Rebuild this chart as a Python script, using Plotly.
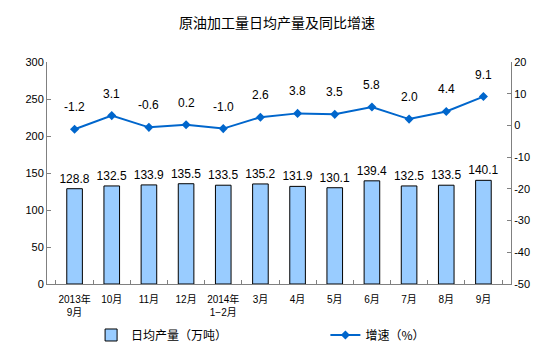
import plotly.graph_objects as go

categories = ["2013年<br>9月", "10月", "11月", "12月", "2014年<br>1−2月", "3月", "4月",
              "5月", "6月", "7月", "8月", "9月"]
output_values = [128.8, 132.5, 133.9, 135.5, 133.5, 135.2, 131.9, 130.1, 139.4, 132.5, 133.5, 140.1]
growth_values = [-1.2, 3.1, -0.6, 0.2, -1.0, 2.6, 3.8, 3.5, 5.8, 2.0, 4.4, 9.1]
left_ticks = [0, 50, 100, 150, 200, 250, 300]
right_ticks = [-50, -40, -30, -20, -10, 0, 10, 20]

font_fam = "Liberation Sans, Arial, Noto Sans CJK SC, sans-serif"
cjk = "Noto Sans CJK SC, sans-serif"
axis_col = "#808080"

fig = go.Figure()
fig.add_trace(go.Bar(
    x=categories, y=output_values, name="日均产量（万吨）", legend="legend",
    marker=dict(color="#99CCFF", line=dict(color="#000000", width=1)),
    width=0.42,
    text=[f"{v:.1f}" for v in output_values], textposition="outside",
    constraintext="none",
    textfont=dict(size=12, color="#000000", family=font_fam),
    outsidetextfont=dict(size=12, color="#000000", family=font_fam),
    cliponaxis=False,
))
fig.add_trace(go.Scatter(
    x=categories, y=growth_values, name="增速（%）", yaxis="y2", legend="legend2",
    mode="lines+markers",
    line=dict(color="#0066CC", width=2),
    marker=dict(symbol="diamond", size=7, color="#0066CC"),
))
for c, v in zip(categories, growth_values):
    fig.add_annotation(x=c, y=v, yref="y2", text=f"{v:.1f}", showarrow=False,
                       yshift=22, font=dict(size=12, color="#000000", family=font_fam))

fig.update_layout(
    width=554, height=353,
    margin=dict(l=47, r=43, t=62, b=69, autoexpand=False),
    paper_bgcolor="white", plot_bgcolor="white",
    title=dict(text="原油加工量日均产量及同比增速", x=0.5, xanchor="center", y=0.935, yanchor="middle",
               font=dict(size=14, color="#000000", family=cjk)),
    xaxis=dict(showline=True, linecolor=axis_col, mirror=False, ticks="inside", ticklen=4,
               tickcolor=axis_col, tickson="boundaries", showgrid=False, tickangle=0,
               automargin=False, ticklabelstandoff=6,
               tickfont=dict(size=10, color="#000000", family=font_fam)),
    yaxis=dict(range=[0, 300], tickvals=left_ticks, ticktext=[str(t) for t in left_ticks],
               showline=True, linecolor=axis_col, ticks="inside",
               ticklen=4, tickcolor=axis_col, showgrid=False, zeroline=False, automargin=False,
               tickfont=dict(size=11, color="#000000", family=font_fam)),
    yaxis2=dict(range=[-50, 20], tickvals=right_ticks, ticktext=[str(t) for t in right_ticks],
                overlaying="y", side="right", showline=True,
                linecolor=axis_col, ticks="inside", ticklen=4, tickcolor=axis_col,
                showgrid=False, zeroline=False, automargin=False,
                tickfont=dict(size=11, color="#000000", family=font_fam)),
    legend=dict(orientation="h", x=0.095, y=0.051, xanchor="left", yanchor="middle",
                yref="container",
                font=dict(size=12, color="#000000", family=cjk), bgcolor="rgba(0,0,0,0)"),
    legend2=dict(orientation="h", x=0.6, y=0.051, xanchor="left", yanchor="middle",
                 yref="container",
                 font=dict(size=12, color="#000000", family=cjk), bgcolor="rgba(0,0,0,0)"),
    showlegend=True,
)

fig.write_html("out.html")
